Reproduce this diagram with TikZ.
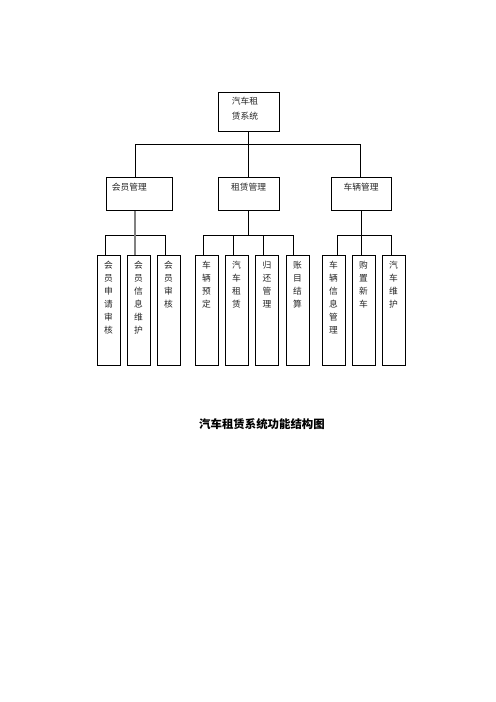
\documentclass[tikz,border=0pt]{standalone}
\usepackage{fontspec}
\newfontfamily\cjk{Noto Sans CJK SC}
\begin{document}
\begin{tikzpicture}[x=1.2pt,y=-1.2pt,
  box/.style={draw, line width=0.8pt, rectangle, inner sep=0pt},
  leaf/.style={box, anchor=north, minimum width=27.6pt, minimum height=132pt},
  midbox/.style={box, anchor=north, minimum height=39.6pt},
  conn/.style={line width=0.8pt},
  greyline/.style={line width=1.4pt, draw={rgb,255:red,128;green,128;blue,128}},
  txt/.style={font=\cjk\fontsize{10.5}{15.6}\selectfont, inner sep=0pt, text=black!85},
  leaftxt/.style={txt, align=center, anchor=north, yshift=-6.9pt},
  midtxt/.style={txt, anchor=north, yshift=-6.8pt}
]
\useasboundingbox (0,0) rectangle (496,702);

% top
\node[box, anchor=north, minimum width=73.2pt, minimum height=46.8pt,
  label={[txt, font=\cjk\fontsize{10.5}{18}\selectfont, align=left, anchor=north west, xshift=16.8pt, yshift=-5.6pt]north west:汽车租\\赁系统}] (T) at (248.5,92) {};

% middle level
\node[midbox, minimum width=79.2pt, label={[midtxt, anchor=north west, xshift=7.2pt]north west:会员管理}] (M1) at (139,177) {};
\node[midbox, minimum width=73.2pt, label={[midtxt]north:租赁管理}] (M2) at (248.5,177) {};
\node[midbox, minimum width=72pt, label={[midtxt]north:车辆管理}] (M3) at (361,177) {};

% leaves
\node[leaf, label={[leaftxt]north:会\\员\\申\\请\\审\\核}] (L1) at (108.5,255) {};
\node[leaf, label={[leaftxt]north:会\\员\\信\\息\\维\\护}] (L2) at (138.5,255) {};
\node[leaf, label={[leaftxt]north:会\\员\\审\\核}] (L3) at (168.5,255) {};
\node[leaf, label={[leaftxt]north:车\\辆\\预\\定}] (L4) at (206.5,255) {};
\node[leaf, label={[leaftxt]north:汽\\车\\租\\赁}] (L5) at (236.5,255) {};
\node[leaf, label={[leaftxt]north:归\\还\\管\\理}] (L6) at (267,255) {};
\node[leaf, label={[leaftxt]north:账\\目\\结\\算}] (L7) at (297.5,255) {};
\node[leaf, label={[leaftxt]north:车\\辆\\信\\息\\管\\理}] (L8) at (333.5,255) {};
\node[leaf, label={[leaftxt]north:购\\置\\新\\车}] (L9) at (363.5,255) {};
\node[leaf, label={[leaftxt]north:汽\\车\\维\\护}] (L10) at (393.5,255) {};

% caption
\node[font=\cjk\bfseries\fontsize{13.7}{16}\selectfont, inner sep=0pt] (cap) at (262,424) {汽车租赁系统功能结构图};

% top connectors
\coordinate (ja) at (135,144);
\coordinate (jc) at (360,144);
\draw[conn] (T.south) -- (T.south |- ja);
\draw[conn] (ja) -- (jc);
\draw[conn] (ja) -- (ja |- M1.north);
\draw[conn] (T.south |- ja) -- (M2.north);
\draw[conn] (jc) -- (jc |- M3.north);

% group 1
\draw[conn] ([xshift=-4.2pt]L1.north) -- ++(0,-20) -| ([xshift=-4.2pt]L3.north);
\draw[greyline] ([xshift=-4.2pt]L2.north) -- ([xshift=-4.2pt]L2.north |- M1.south);

% group 2
\draw[conn] (M2.south) -- ++(0,25);
\draw[conn] ([xshift=-4.2pt]L4.north) -- ++(0,-20) -| ([xshift=-5pt]L7.north);
\draw[conn] ([xshift=-4.2pt]L5.north) -- ++(0,-20);
\draw[conn] ([xshift=-4.8pt]L6.north) -- ++(0,-20);

% group 3
\draw[conn] (M3.south) -- ++(0,25);
\draw[conn] ([xshift=4.2pt]L8.north) -- ++(0,-20) -| ([xshift=-3pt]L10.north);
\draw[conn] ([xshift=-3pt]L9.north) -- ++(0,-20);
\end{tikzpicture}
\end{document}
